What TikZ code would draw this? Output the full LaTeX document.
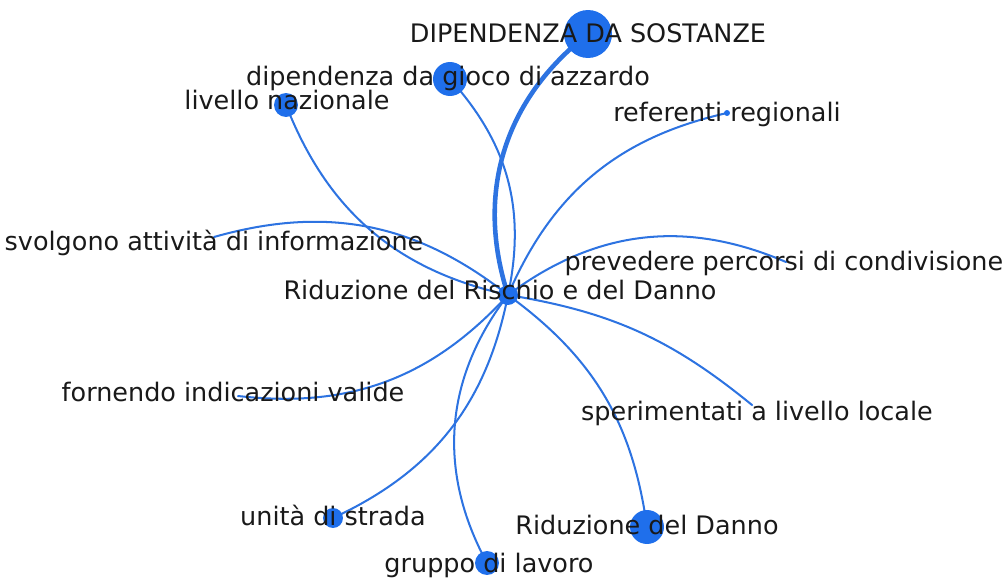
\documentclass[tikz,border=0pt]{standalone}
\usepackage{fontspec}
\setmainfont{DejaVu Sans}
\usepackage{xcolor}
\usepackage{tikz}
\usetikzlibrary{arrows.meta,positioning,calc}

\definecolor{netblue}{RGB}{31,111,235}
\definecolor{edgeblue}{RGB}{45,115,225}

\pgfdeclarelayer{bg}
\pgfsetlayers{bg,main}

\begin{document}
\begin{tikzpicture}[
  x=0.02cm, y=-0.02cm,
  dot/.style={circle, fill=netblue, inner sep=0pt, minimum size=#1*0.04cm},
  dot/.default=1,
  lbl/.style={anchor=base, inner sep=0pt, font=\fontsize{14.5}{16}\selectfont, text=black!90},
  link/.style={draw=edgeblue, line width=1.15pt},
  heavy/.style={draw=edgeblue, line width=2.6pt}
]
\useasboundingbox (0,0) rectangle (1002,578);

% nodes of the network
\node [dot=10] (hub) at (508,295) {};
\node [dot=24] (dip) at (588,34) {};
\node [dot=17] (gioco) at (450,79) {};
\node [dot=12] (naz) at (286,105) {};
\node [dot=3] (ref) at (727,113) {};
\node [dot=1] (svol) at (214,237) {};
\node [dot=1] (prev) at (786,262) {};
\node [dot=1] (forn) at (238,396) {};
\node [dot=1] (sper) at (752,405) {};
\node [dot=17] (rdd) at (647,527) {};
\node [dot=10] (strada) at (333,518) {};
\node [dot=12] (gruppo) at (487,563) {};

% curved links from the hub
\begin{pgfonlayer}{bg}
\draw [heavy] (hub.center) to [bend left=35] (dip.center);
\draw [link] (hub.center) to [bend right=27] (gioco.center);
\draw [link] (hub.center) to [bend left=28] (naz.center);
\draw [link] (hub.center) to [bend left=27] (ref.center);
\draw [link] (hub.center) to [bend right=27] (svol.center);
\draw [link] (hub.center) to [bend left=30] (prev.center);
\draw [link] (hub.center) to [bend left=27] (forn.center);
\draw [link] (hub.center) to [bend left=15] (sper.center);
\draw [link] (hub.center) to [bend left=23] (rdd.center);
\draw [link] (hub.center) to [bend left=27] (strada.center);
\draw [link] (hub.center) to [bend right=33] (gruppo.center);
\end{pgfonlayer}

% labels
\node [lbl] (tdip) at (588,42) {DIPENDENZA DA SOSTANZE};
\node [lbl] (tgioco) at (448,85) {dipendenza da gioco di azzardo};
\node [lbl] (tnaz) at (287,110) {livello nazionale};
\node [lbl] (tref) at (727,121) {referenti regionali};
\node [lbl] (tsvol) at (214,250) {svolgono attività di informazione};
\node [lbl] (thub) at (500,299) {Riduzione del Rischio e del Danno};
\node [lbl] (tprev) at (784,270) {prevedere percorsi di condivisione};
\node [lbl] (tforn) at (233,401) {fornendo indicazioni valide};
\node [lbl] (tsper) at (757,420) {sperimentati a livello locale};
\node [lbl] (trdd) at (647,534) {Riduzione del Danno};
\node [lbl] (tstrada) at (333,525) {unità di strada};
\node [lbl] (tgruppo) at (489,572) {gruppo di lavoro};
\end{tikzpicture}
\end{document}
